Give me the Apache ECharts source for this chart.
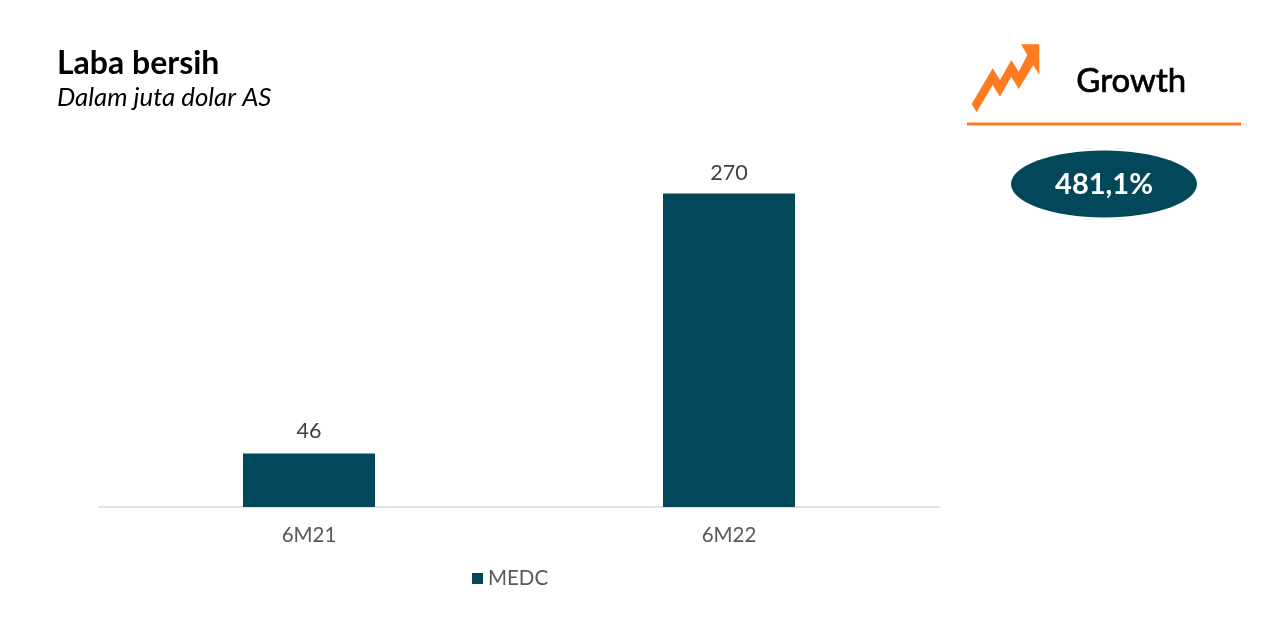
<!DOCTYPE html>
<html><head><meta charset="utf-8">
<style>html,body{margin:0;padding:0;background:#fff}#c{width:1282px;height:637px}</style>
<script src="https://cdn.jsdelivr.net/npm/echarts@6/dist/echarts.min.js"></script>
</head><body><div id="c"></div>
<script>
const categories = ['6M21', '6M22'];
const medc = [46, 270];
const seriesName = 'MEDC';
const title = 'Laba bersih';
const subtitle = 'Dalam juta dolar AS';
const growthLabel = 'Growth';
const growthValue = '481,1%';

const TEAL = '#02475A', ORANGE = '#FF7B22', FONT = 'Lato';
const labelGap = [11.5, 9];
const chart = echarts.init(document.getElementById('c'), null, {renderer: 'canvas'});
chart.setOption({
  animation: false,
  backgroundColor: '#fff',
  textStyle: {fontFamily: FONT},
  grid: {left: 99, right: 343, top: 193.5, bottom: 130, containLabel: false},
  legend: {
    data: [seriesName], left: 472, top: 568, itemWidth: 11, itemHeight: 11, itemGap: 6,
    icon: 'rect', padding: 0,
    textStyle: {fontFamily: FONT, fontSize: 20.5, color: '#595959', padding: [0, 0, 0, 0]}
  },
  xAxis: {
    type: 'category', data: categories,
    axisTick: {show: false},
    axisLine: {lineStyle: {color: '#D9D9D9', width: 1.5}},
    axisLabel: {fontFamily: FONT, fontSize: 20.5, color: '#595959', margin: 18}
  },
  yAxis: {type: 'value', min: 0, max: 270, show: false, splitLine: {show: false}},
  series: [{
    name: seriesName, type: 'bar', barWidth: 132,
    data: medc.map((v, i) => ({value: v, label: {distance: labelGap[i]}})),
    itemStyle: {color: TEAL},
    label: {show: true, position: 'top', fontFamily: FONT, fontSize: 21.5, color: '#404040'}
  }],
  graphic: [
    {type: 'text', left: 57, top: 48, style: {text: title, fontFamily: FONT, fontWeight: 'bold', fontSize: 32, fill: '#000'}},
    {type: 'text', left: 57, top: 85, style: {text: subtitle, fontFamily: FONT, fontStyle: 'italic', fontSize: 25.8, fill: '#000'}},
    {type: 'polygon', shape: {points: [[971.7,104],[992.7,68.3],[1000,80],[1011.3,60],[1018.7,71.7],[1027.3,55],[1021,44.3],[1039.3,44.3],[1039.3,75],[1033.3,65],[1018.7,89],[1011.3,76.7],[1000,96.7],[992.7,85],[976.7,112.3]]}, style: {fill: ORANGE}},
    {type: 'text', left: 1076, top: 65, style: {text: growthLabel, fontFamily: FONT, fontSize: 33, fill: '#000', stroke: '#000', lineWidth: 0.7}},
    {type: 'line', shape: {x1: 967, y1: 124, x2: 1241, y2: 124}, style: {stroke: ORANGE, lineWidth: 3}},
    {type: 'ellipse', shape: {cx: 1104, cy: 184, rx: 93, ry: 33.5}, style: {fill: TEAL}},
    {type: 'text', x: 1104, y: 185, style: {text: growthValue, fontFamily: FONT, fontWeight: 'bold', fontSize: 29, fill: '#fff', align: 'center', verticalAlign: 'middle'}}
  ]
});
</script></body></html>
